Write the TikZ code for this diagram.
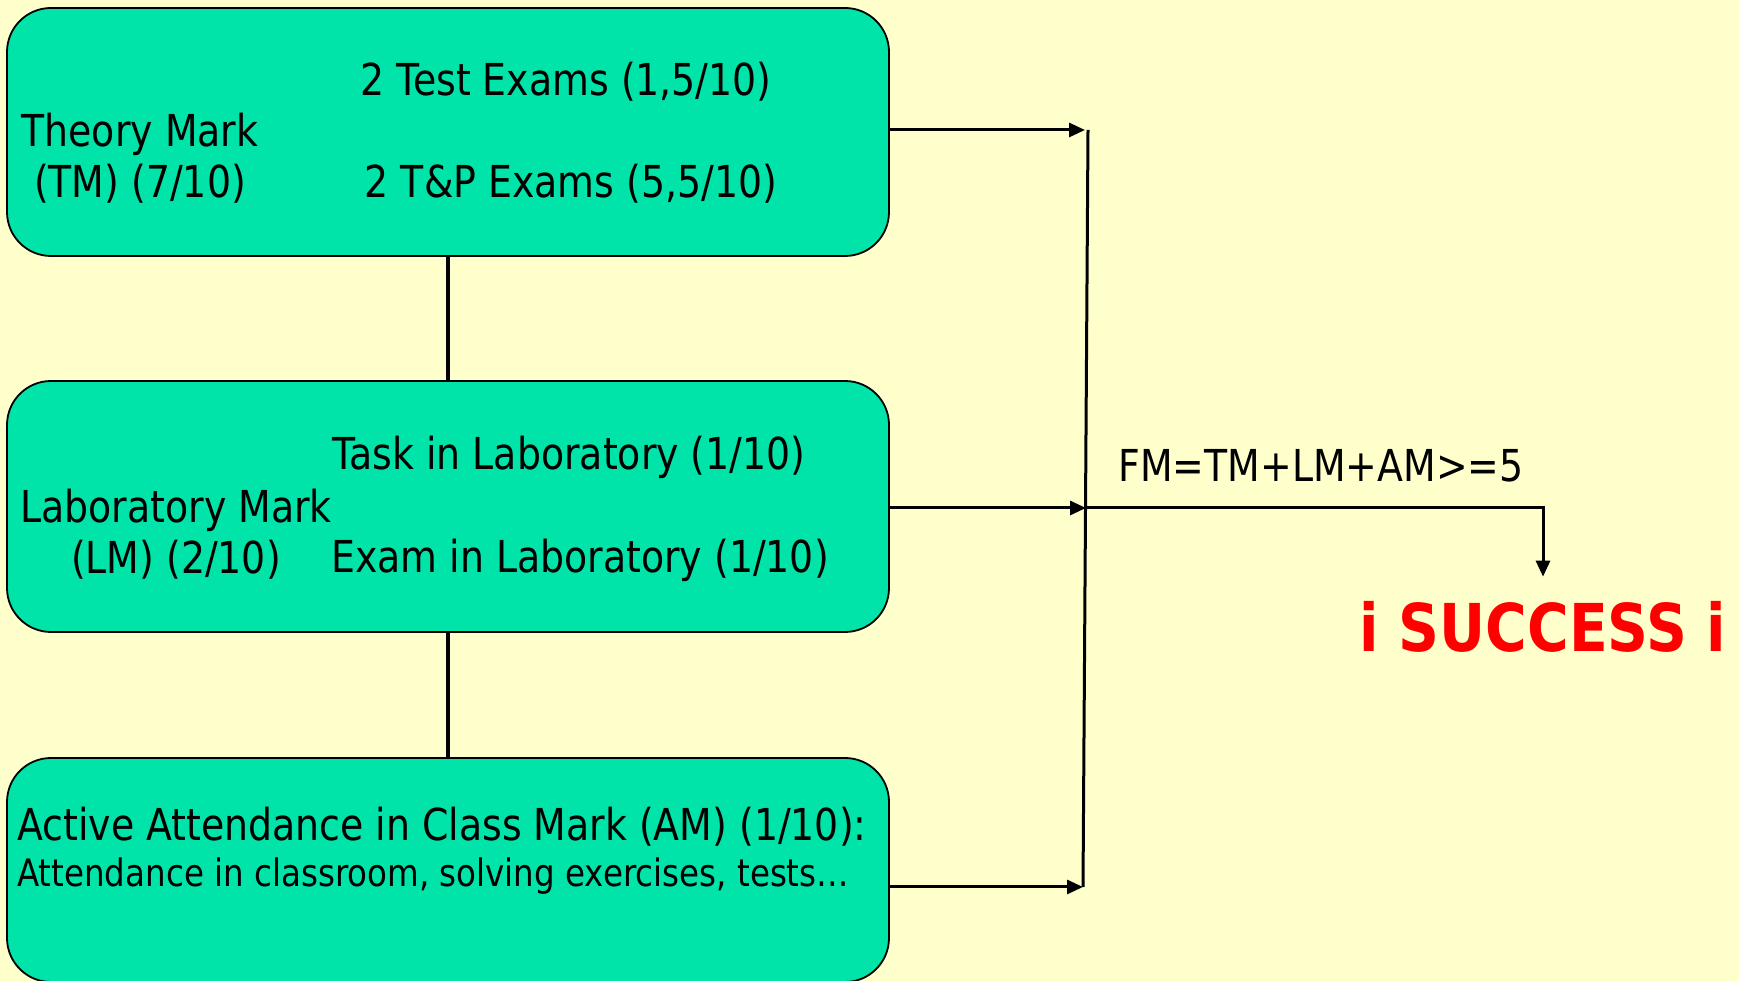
\documentclass[tikz,border=0pt]{standalone}
\usepackage{fontspec}
\setmainfont{DejaVu Sans}[FakeStretch=0.86]
\usetikzlibrary{arrows.meta}
\definecolor{bgy}{HTML}{FFFFCC}
\definecolor{boxg}{HTML}{00E4AA}
\definecolor{succred}{HTML}{FF0000}
\begin{document}
\begin{tikzpicture}[x=1pt,y=1pt,
 box/.style={draw=black,line width=1.8pt,fill=boxg,rounded corners=44pt,inner sep=0pt,minimum width=882pt},
 txt/.style={font=\fontsize{44}{51}\selectfont,inner sep=0pt},
 smalltxt/.style={font=\fontsize{37.8}{42}\selectfont,inner sep=0pt},
 link/.style={line width=4pt},
 arr/.style={line width=3pt,-{Triangle[length=16pt,width=14pt]}},
 bus/.style={line width=3pt}]
\fill[bgy] (0,0) rectangle (1739,981);
\useasboundingbox (0,0) rectangle (1739,981);
% boxes
\node[box,minimum height=248pt] (tm) at (448,849) {};
\node[box,minimum height=251pt] (lm) at (448,474.5) {};
\node[box,minimum height=224pt] (am) at (448,111) {};
% links between boxes
\draw[link] (tm.south) -- (lm.north);
\draw[link] (lm.south) -- (am.north);
% texts
\node[txt] (t1) at (566,899) {2 Test Exams (1,5/10)};
\node[txt] (t2) at (571,797) {2 T\&P Exams (5,5/10)};
\node[txt,align=center] (tml) at (140,822.5) {Theory Mark\\(TM) (7/10)};
\node[txt] (l1) at (569,524) {Task in Laboratory (1/10)};
\node[txt] (l2) at (580,421) {Exam in Laboratory (1/10)};
\node[txt,align=center] (lml) at (176,447) {Laboratory Mark\\(LM) (2/10)};
\node[txt,anchor=west] (a1) at (17,154) {Active Attendance in Class Mark (AM) (1/10):};
\node[smalltxt,anchor=west] (a2) at (17,105) {Attendance in classroom, solving exercises, tests…};
% bus
\coordinate (bt) at (1088,851);
\coordinate (bm) at (1086,473);
\coordinate (bb) at (1083,94);
\draw[bus] (bt) -- (bb);
\draw[arr] (tm.east |- bt) -- ([xshift=-3pt]bt);
\draw[arr] (lm.east |- bm) -- (bm);
\draw[arr] (am.east |- bb) -- (bb);
% result
\node[font=\fontsize{44}{51}\selectfont,inner sep=0pt] (fm) at (1321,515) {FM=TM+LM+AM>=5};
\node[font=\bfseries\fontsize{66}{70}\selectfont,text=succred,inner sep=0pt,anchor=base] (succ) at (1543,329) {i SUCCESS i};
\draw[arr] (bm) -| ([yshift=25pt]succ.north);
\end{tikzpicture}
\end{document}
